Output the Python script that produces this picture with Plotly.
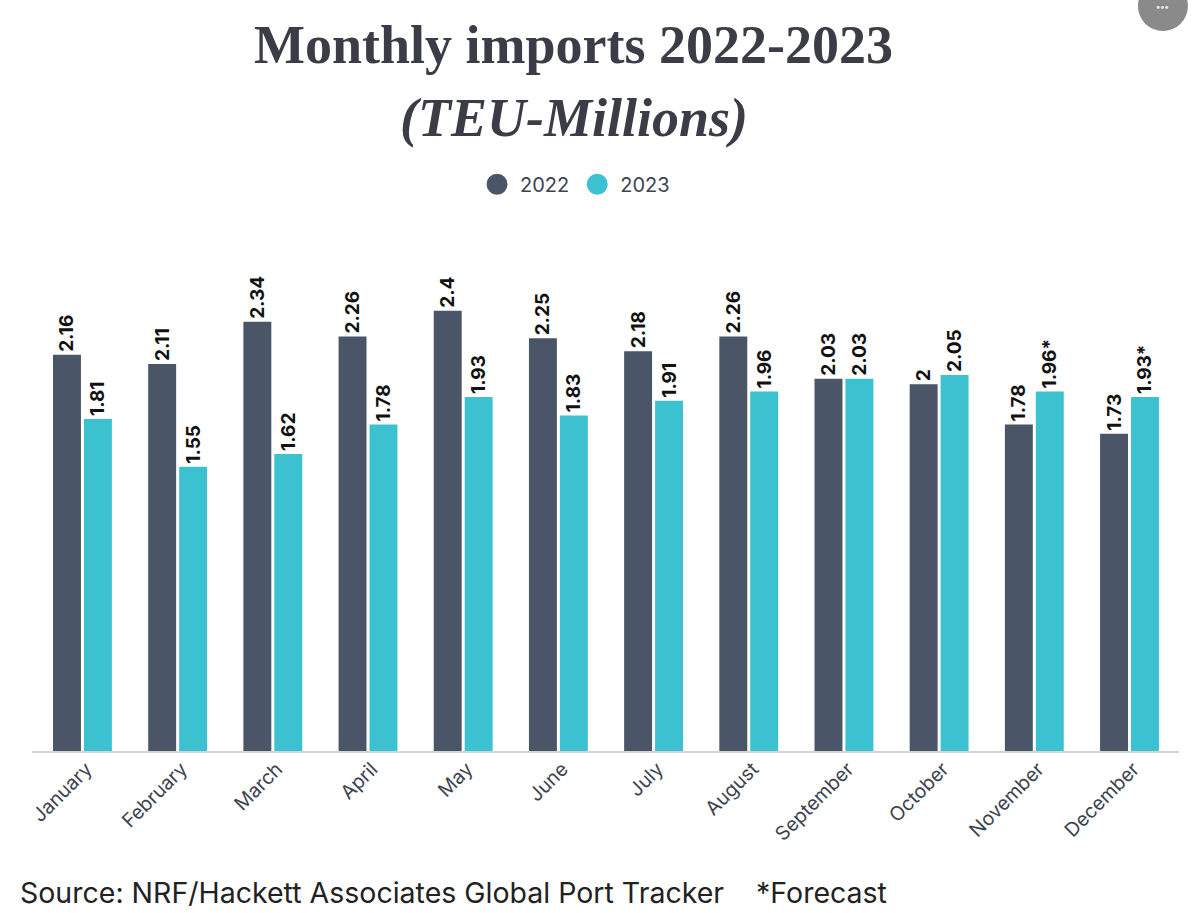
import plotly.graph_objects as go

months = ["January","February","March","April","May","June","July","August","September","October","November","December"]
v2022 = [2.16,2.11,2.34,2.26,2.4,2.25,2.18,2.26,2.03,2,1.78,1.73]
v2023 = [1.81,1.55,1.62,1.78,1.93,1.83,1.91,1.96,2.03,2.05,1.96,1.93]
labels2022 = ["2.16","2.11","2.34","2.26","2.4","2.25","2.18","2.26","2.03","2","1.78","1.73"]
labels2023 = ["1.81","1.55","1.62","1.78","1.93","1.83","1.91","1.96","2.03","2.05","1.96*","1.93*"]

SANS = "Inter, Lato, Liberation Sans"
SERIF = "Liberation Serif, DejaVu Serif"
C22, C23 = "#4a5568", "#3bc1cf"
INK = "#3a3d45"

fig = go.Figure()
for name, vals, labs, col in [("2022", v2022, labels2022, C22), ("2023", v2023, labels2023, C23)]:
    fig.add_bar(x=months, y=vals, name=name, marker=dict(color=col, line_width=0),
                text=["<b>%s</b>" % t for t in labs], textposition="outside", textangle=-90,
                textfont=dict(family=SANS, size=19, color="#111111"),
                constraintext="none", cliponaxis=False, showlegend=False)
    # legend entry with the reference's round swatch
    fig.add_scatter(x=[None], y=[None], mode="markers", name=name,
                    marker=dict(symbol="circle", size=16, color=col, line=dict(color=col, width=5)))

fig.update_layout(
    width=1200, height=913, autosize=False, paper_bgcolor="white", plot_bgcolor="white",
    margin=dict(l=32, r=21, t=265, b=162),
    barmode="group", bargap=0.35, bargroupgap=0.097,
    xaxis=dict(type="category", range=[-0.53, 11.52], tickangle=-45,
               tickfont=dict(family=SANS, size=19.5, color="#3d4350"),
               ticklabelshift=4, ticklabelstandoff=-3,
               showline=True, linecolor="#d4d4d4", linewidth=2, ticks="", showgrid=False),
    yaxis=dict(visible=False, range=[0, 2.65], showgrid=False),
    legend=dict(orientation="h", x=0.473, xanchor="center", y=1.126, yanchor="bottom",
                font=dict(family=SANS, size=20, color="#3d4350"), itemsizing="trace", itemwidth=36),
    annotations=[
        dict(text="<b>Monthly imports 2022-2023</b>", xref="paper", yref="paper", x=0.4725, y=1.453,
             xanchor="center", yanchor="middle", showarrow=False,
             font=dict(family=SERIF, size=54, color=INK)),
        dict(text="<b><i>(TEU-Millions)</i></b>", xref="paper", yref="paper", x=0.4725, y=1.302,
             xanchor="center", yanchor="middle", showarrow=False,
             font=dict(family=SERIF, size=54, color=INK)),
        dict(text="Source: NRF/Hackett Associates Global Port Tracker    *Forecast", xref="paper", yref="paper",
             x=-0.0125, y=-0.292, xanchor="left", yanchor="middle", showarrow=False,
             font=dict(family=SANS, size=28.5, color="#222222")),
        dict(text="<b>•••</b>", xref="paper", yref="paper", x=0.986, y=1.531,
             xanchor="center", yanchor="middle", showarrow=False,
             font=dict(family=SANS, size=9, color="#e8e8e8")),
    ],
    shapes=[
        dict(type="circle", xref="paper", yref="paper", xsizemode="pixel", ysizemode="pixel",
             xanchor=0.986, yanchor=1.533, x0=-25, x1=25, y0=-25, y1=25,
             fillcolor="#8a8a8a", line_width=0),
    ],
)
fig.write_html("out.html", config=dict(displayModeBar=False), post_script="document.body.style.margin='0';")
